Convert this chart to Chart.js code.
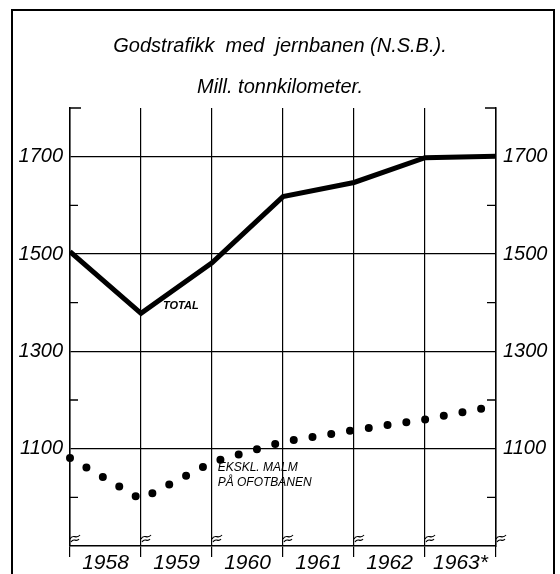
<!DOCTYPE html>
<html>
<head>
<meta charset="utf-8">
<script src="https://cdn.jsdelivr.net/npm/chart.js@4"></script>
<style>
  body { margin: 0; background: #fff; }
</style>
</head>
<body>
<canvas id="myChart" width="560" height="574"></canvas>
<script>
// year labels sit between the boundary lines
const years = ["1958", "1959", "1960", "1961", "1962", "1963*"];
// values read at each year boundary (7 boundaries)
const totalValues = [1505, 1378, 1482, 1618, 1647, 1698, 1701];
const ekskMalmValues = [1081, 996, 1072, 1114, 1138, 1160, 1188];
const yLabels = [1100, 1300, 1500, 1700];
const minorTicks = [1000, 1200, 1400, 1600];
const yMin = 900;
const yMax = 1800;

const FONT = "'Liberation Sans', Arial, sans-serif";

function toPoints(vals) {
  return vals.map((v, i) => ({ x: i, y: v }));
}

const decor = {
  id: "decor",
  afterDraw(chart) {
    const ctx = chart.ctx;
    const xs = chart.scales.x;
    const ys = chart.scales.y;
    const area = chart.chartArea;
    ctx.save();
    ctx.strokeStyle = "#000";
    ctx.fillStyle = "#000";

    // outer frame
    ctx.lineWidth = 2;
    ctx.beginPath();
    ctx.moveTo(12, 580);
    ctx.lineTo(12, 10);
    ctx.lineTo(554, 10);
    ctx.lineTo(554, 580);
    ctx.stroke();

    // brackets at the top and short inner ticks
    ctx.lineWidth = 1.3;
    const topY = ys.getPixelForValue(yMax);
    ctx.beginPath();
    ctx.moveTo(area.left + 11, topY);
    ctx.lineTo(area.left, topY);
    ctx.moveTo(area.right - 11, topY);
    ctx.lineTo(area.right, topY);
    minorTicks.forEach(v => {
      const y = ys.getPixelForValue(v);
      ctx.moveTo(area.left, y);
      ctx.lineTo(area.left + 8, y);
      ctx.moveTo(area.right - 9, y);
      ctx.lineTo(area.right, y);
    });
    ctx.stroke();

    // axis break marks on each year line
    const by = area.bottom - 9;
    ctx.lineWidth = 1.2;
    for (let i = 0; i < totalValues.length; i++) {
      const x = xs.getPixelForValue(i);
      ctx.beginPath();
      ctx.moveTo(x, by + 2);
      ctx.bezierCurveTo(x + 3, by - 4, x + 6, by + 3, x + 10, by - 2);
      ctx.stroke();
      ctx.beginPath();
      ctx.moveTo(x + 1, by + 5);
      ctx.bezierCurveTo(x + 4, by, x + 6, by + 6, x + 9, by + 2);
      ctx.stroke();
    }

    // series labels
    ctx.textBaseline = "middle";
    ctx.textAlign = "left";
    ctx.font = "italic bold 11px " + FONT;
    ctx.fillText("TOTAL", xs.getPixelForValue(1.31), ys.getPixelForValue(1393));
    ctx.font = "italic 12px " + FONT;
    ctx.fillText("EKSKL. MALM", xs.getPixelForValue(2.08), ys.getPixelForValue(1061));
    ctx.fillText("PÅ OFOTBANEN", xs.getPixelForValue(2.08), ys.getPixelForValue(1031));
    ctx.restore();
  }
};

const yTickLabel = v => (yLabels.includes(v) ? String(v) : "");

new Chart("myChart", {
  type: "line",
  data: {
    datasets: [
      {
        label: "Total",
        data: toPoints(totalValues),
        borderColor: "#000",
        borderWidth: 5,
        borderJoinStyle: "miter",
        pointRadius: 0,
        tension: 0
      },
      {
        label: "Ekskl. malm på Ofotbanen",
        data: toPoints(ekskMalmValues),
        borderColor: "#000",
        borderWidth: 8,
        borderCapStyle: "round",
        borderDash: [0, 19],
        pointRadius: 0,
        tension: 0,
        clip: false
      }
    ]
  },
  options: {
    responsive: false,
    animation: false,
    layout: { padding: 0 },
    plugins: {
      legend: { display: false },
      tooltip: { enabled: false },
      title: {
        display: true,
        text: ["Godstrafikk  med  jernbanen (N.S.B.).", "Mill. tonnkilometer."],
        color: "#000",
        font: { family: FONT, style: "italic", size: 20, lineHeight: 2.05, weight: "normal" },
        padding: { top: 26, bottom: 0 }
      }
    },
    scales: {
      x: {
        type: "linear",
        min: 0,
        max: years.length,
        afterBuildTicks: scale => {
          const t = [];
          for (let v = 0; v <= years.length; v += 0.5) t.push({ value: v });
          scale.ticks = t;
        },
        afterFit: scale => { scale.height = 28; },
        grid: {
          color: c => (c.tick && c.tick.value % 1 === 0 ? "#000" : "transparent"),
          lineWidth: 1.2,
          drawTicks: true,
          tickLength: 11
        },
        border: { display: true, color: "#000", width: 1.5 },
        ticks: {
          autoSkip: false,
          maxRotation: 0,
          padding: -6,
          color: "#000",
          font: { family: FONT, style: "italic", size: 21 },
          callback: v => (v % 1 ? years[Math.floor(v)] : "")
        }
      },
      y: {
        position: "left",
        min: yMin,
        max: yMax,
        afterFit: scale => { scale.width = 70; },
        grid: {
          color: c => (c.tick && yLabels.includes(c.tick.value) ? "#000" : "transparent"),
          lineWidth: 1.2,
          drawTicks: false
        },
        border: { display: true, color: "#000", width: 1.5 },
        ticks: {
          stepSize: 100,
          padding: 7,
          color: "#000",
          font: { family: FONT, style: "italic", size: 20 },
          callback: yTickLabel
        }
      },
      y2: {
        position: "right",
        min: yMin,
        max: yMax,
        afterFit: scale => { scale.width = 64; },
        grid: { display: false, drawTicks: false },
        border: { display: true, color: "#000", width: 1.5 },
        ticks: {
          stepSize: 100,
          padding: 7,
          color: "#000",
          font: { family: FONT, style: "italic", size: 20 },
          callback: yTickLabel
        }
      }
    }
  },
  plugins: [decor]
});
</script>
</body>
</html>
